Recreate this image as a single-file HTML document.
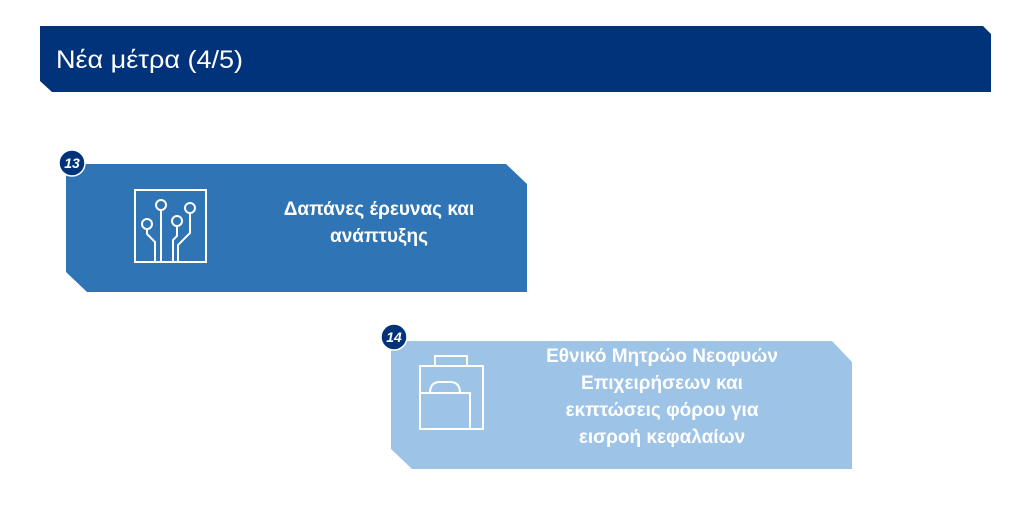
<!DOCTYPE html>
<html><head><meta charset="utf-8"><style>
body{margin:0;background:#fff;width:1027px;height:516px;overflow:hidden;font-family:"Liberation Sans","DejaVu Sans",sans-serif}
svg text{font-family:"Liberation Sans","DejaVu Sans",sans-serif}
</style></head><body>
<svg width="1027" height="516" viewBox="0 0 1027 516" xmlns="http://www.w3.org/2000/svg">
<polygon points="40,26 983,26 991,34 991,92 52,92 40,81" fill="#00337a"/>
<text x="56" y="68" font-size="25" fill="#fff" textLength="187" lengthAdjust="spacingAndGlyphs">Νέα μέτρα (4/5)</text>

<polygon points="66,164 506,164 527,184 527,292 87,292 66,272" fill="#2f74b5"/>
<circle cx="72" cy="163" r="13" fill="#00337a" stroke="#fff" stroke-width="1.5"/>
<text x="72" y="168" font-size="14" font-weight="bold" font-style="italic" fill="#fff" text-anchor="middle">13</text>
<g fill="none" stroke="#fff" stroke-width="2">
<rect x="135" y="190" width="71" height="72"/>
<circle cx="147" cy="224" r="5"/><circle cx="161" cy="205" r="5"/><circle cx="177" cy="221" r="5"/><circle cx="190" cy="208" r="5"/>
<path d="M147,229 v5 l8,8 v20"/><path d="M161,210 v52"/><path d="M177,226 v10 l-4,4 v22"/><path d="M190,213 v20 l-12,12 v17"/>
</g>
<text font-size="19" font-weight="bold" fill="#fff" text-anchor="middle"><tspan x="379" y="215">Δαπάνες έρευνας και</tspan><tspan x="379" y="242">ανάπτυξης</tspan></text>

<polygon points="391,341 832,341 852,362 852,469 412,469 391,449" fill="#9dc3e6"/>
<circle cx="394" cy="337" r="13" fill="#00337a" stroke="#fff" stroke-width="1.5"/>
<text x="394" y="342" font-size="14" font-weight="bold" font-style="italic" fill="#fff" text-anchor="middle">14</text>
<g fill="none" stroke="#fff" stroke-width="2">
<rect x="435" y="356" width="32" height="10"/>
<rect x="420" y="366" width="63" height="63"/>
<rect x="420" y="393" width="50" height="36"/>
<path d="M430,393 q0,-11 10,-11 h10 q10,0 10,11"/>
</g>
<text font-size="19" font-weight="bold" fill="#fff" text-anchor="middle"><tspan x="662" y="362">Εθνικό Μητρώο Νεοφυών</tspan><tspan x="662" y="389">Επιχειρήσεων και</tspan><tspan x="662" y="416">εκπτώσεις φόρου για</tspan><tspan x="662" y="443">εισροή κεφαλαίων</tspan></text>
</svg>
</body></html>
